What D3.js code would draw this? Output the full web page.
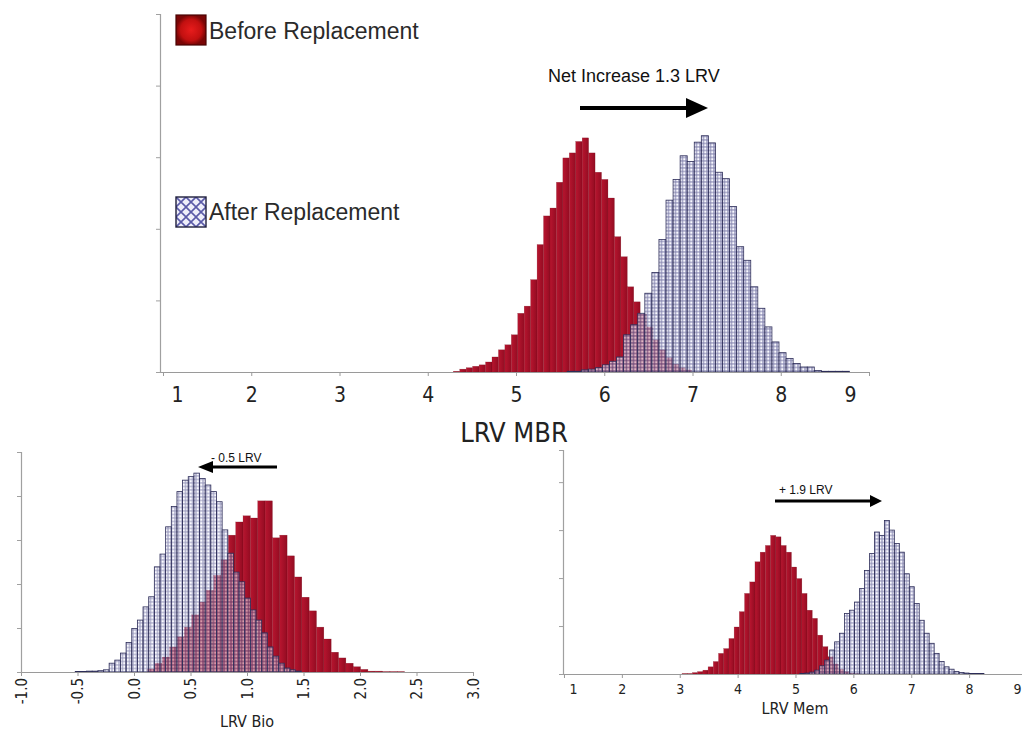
<!DOCTYPE html>
<html>
<head>
<meta charset="utf-8">
<script src="https://cdn.jsdelivr.net/npm/d3@7"></script>
<style>
  body { margin: 0; background: #fff; }
  svg { display: block; }
</style>
</head>
<body>
<svg id="chart" width="1022" height="731"></svg>
<script>
// ---------- data (LRV histograms, bin start / bin width / frequency) ----------
const mbrTicks = [1, 2, 3, 4, 5, 6, 7, 8, 9];
const mbrBeforeStart = 4.29, mbrBeforeBin = 0.073;
const mbrBeforeCounts = [1, 4, 6, 8, 10, 14, 21, 31, 38, 52, 82, 92, 129, 178, 218, 229, 265, 299, 306, 322,
  327, 306, 279, 269, 243, 189, 161, 119, 98, 81, 63, 45, 31, 20, 11, 6, 3];
const mbrAfterStart = 5.58, mbrAfterBin = 0.08;
const mbrAfterCounts = [1, 1, 3, 4, 6, 10, 15, 21, 52, 66, 82, 110, 139, 185, 240, 269, 302, 294, 321, 330,
  320, 279, 270, 231, 175, 156, 119, 89, 63, 42, 27, 19, 12, 7, 7, 2, 1, 1, 1, 1];

const bioTicks = [-1.0, -0.5, 0.0, 0.5, 1.0, 1.5, 2.0, 2.5, 3.0];
const bioBeforeStart = 0.12, bioBeforeBin = 0.065;
const bioBeforeCounts = [7, 20, 34, 57, 80, 102, 130, 159, 186, 220, 255, 311, 341, 355, 350, 389, 389, 305,
  311, 264, 216, 170, 139, 102, 75, 45, 32, 20, 12, 6, 2, 2, 1, 1, 1];
const bioAfterStart = -0.52, bioAfterBin = 0.05;
const bioAfterCounts = [1, 1, 2, 2, 3, 5, 20, 27, 43, 67, 99, 118, 148, 171, 239, 268, 330, 376, 410, 436,
  444, 452, 440, 425, 410, 387, 323, 270, 227, 205, 168, 141, 118, 89, 57, 36, 20, 9, 5, 2];

const memTicks = [1, 2, 3, 4, 5, 6, 7, 8, 9];
const memBeforeStart = 3.04, memBeforeBin = 0.09;
const memBeforeCounts = [1, 1, 3, 5, 8, 15, 26, 43, 53, 74, 98, 130, 168, 192, 234, 254, 268, 289, 286, 268,
  254, 223, 199, 168, 133, 116, 81, 57, 36, 21, 10, 5, 2, 1];
const memAfterStart = 5.074, memAfterBin = 0.086;
const memAfterCounts = [1, 2, 4, 8, 17, 29, 50, 67, 85, 126, 133, 150, 178, 216, 251, 296, 289, 320, 300, 272,
  254, 209, 182, 147, 112, 85, 64, 43, 26, 15, 10, 5, 3, 2, 1, 1, 1];

const legendLabels = ["Before Replacement", "After Replacement"];

// ---------- drawing ----------
const svg = d3.select("#chart");
const defs = svg.append("defs");

// crimson bar shading
const redBar = defs.append("linearGradient").attr("id", "redBar")
  .attr("x1", 0).attr("x2", 1).attr("y1", 0).attr("y2", 0);
redBar.append("stop").attr("offset", "0%").attr("stop-color", "#b8152f");
redBar.append("stop").attr("offset", "100%").attr("stop-color", "#930c22");

// dotted lattice fill of the "after" bars
const dots = defs.append("pattern").attr("id", "dotFill")
  .attr("patternUnits", "userSpaceOnUse").attr("width", 3.5).attr("height", 3.5);
dots.append("rect").attr("width", 3.5).attr("height", 3.5).attr("fill", "#6a6a9e");
dots.append("circle").attr("cx", 1.75).attr("cy", 1.75).attr("r", 1.25).attr("fill", "#f6f6ff");

// legend swatches
const redKey = defs.append("radialGradient").attr("id", "redKey");
redKey.append("stop").attr("offset", "0%").attr("stop-color", "#e81c1c");
redKey.append("stop").attr("offset", "70%").attr("stop-color", "#c21010");
redKey.append("stop").attr("offset", "100%").attr("stop-color", "#7a0606");

const diamond = defs.append("pattern").attr("id", "diamondKey")
  .attr("patternUnits", "userSpaceOnUse").attr("width", 10).attr("height", 10)
  .attr("x", 176).attr("y", 197);
diamond.append("rect").attr("width", 10).attr("height", 10).attr("fill", "#eeeefa");
diamond.append("path").attr("d", "M0,0L10,10M10,0L0,10")
  .attr("stroke", "#5a5aa8").attr("stroke-width", 1.6);

function bins(start, width, counts) {
  return counts.map((c, i) => ({ x0: start + i * width, x1: start + (i + 1) * width, v: c }));
}

function panel(o) {
  const x = d3.scaleLinear().domain(o.xDomain).range(o.xRange);
  const y = d3.scaleLinear().domain(o.yDomain).range(o.yRange);
  const g = svg.append("g");

  // red (before) bars
  g.append("g").selectAll("rect")
    .data(bins(o.before.start, o.before.bin, o.before.counts))
    .join("rect")
    .attr("x", d => x(d.x0))
    .attr("width", d => x(d.x1) - x(d.x0))
    .attr("y", d => y(d.v))
    .attr("height", d => y(0) - y(d.v))
    .attr("fill", "url(#redBar)")
    .attr("stroke", "#6e0816").attr("stroke-width", 0.4).attr("stroke-opacity", 0.5);

  // lattice (after) bars laid over them
  g.append("g").selectAll("rect")
    .data(bins(o.after.start, o.after.bin, o.after.counts))
    .join("rect")
    .attr("x", d => x(d.x0))
    .attr("width", d => x(d.x1) - x(d.x0))
    .attr("y", d => y(d.v))
    .attr("height", d => y(0) - y(d.v))
    .attr("fill", "url(#dotFill)").attr("fill-opacity", o.afterOpacity)
    .attr("stroke", "#2c2c58").attr("stroke-width", 0.8);

  // axes
  const xAxis = g.append("g").attr("transform", `translate(0,${o.yRange[0]})`)
    .call(d3.axisBottom(x).tickValues(o.ticks).tickFormat(o.fmt).tickSize(4).tickSizeOuter(0));
  xAxis.select(".domain").attr("stroke", "#9a9a9a").attr("stroke-width", 1.2);
  xAxis.selectAll(".tick line").attr("stroke", "#9a9a9a");
  const labels = xAxis.selectAll(".tick text")
    .attr("fill", "#222")
    .attr("font-family", "'DejaVu Sans Condensed', 'DejaVu Sans', sans-serif")
    .attr("font-size", o.tickFont);
  if (o.rotateLabels) {
    labels.attr("transform", "rotate(-90)").attr("text-anchor", "end")
      .attr("x", -6).attr("y", 0).attr("dy", "0.35em");
  } else {
    labels.attr("y", o.tickDy).attr("dy", 0)
      .attr("dx", (d, i, n) => i === 0 ? o.endNudge[0] : (i === n.length - 1 ? o.endNudge[1] : 0));
  }

  const yAxis = g.append("g").attr("transform", `translate(${o.xRange[0]},0)`)
    .call(d3.axisLeft(y).tickValues(o.yTicks).tickFormat("").tickSize(4).tickSizeOuter(4));
  yAxis.select(".domain").attr("stroke", "#a0a0a0").attr("stroke-width", 1.2);
  yAxis.selectAll(".tick line").attr("stroke", "#a0a0a0");

  // axis title
  g.append("text").attr("x", o.title.x).attr("y", o.title.y)
    .attr("text-anchor", "middle").attr("fill", "#222")
    .attr("font-family", "'DejaVu Sans Condensed', 'DejaVu Sans', sans-serif")
    .attr("font-size", o.title.size).text(o.title.text);

  return { x, y, g };
}

function arrow(x1, x2, yPos, width, head, headLen) {
  const dir = Math.sign(x2 - x1);
  const tip = x2, base = x2 - dir * headLen;
  svg.append("line").attr("x1", x1).attr("x2", base).attr("y1", yPos).attr("y2", yPos)
    .attr("stroke", "#000").attr("stroke-width", width);
  svg.append("path")
    .attr("d", `M${tip},${yPos}L${base},${yPos - head}L${base},${yPos + head}Z`)
    .attr("fill", "#000");
}

// one-decimal labels written with a plain hyphen for negatives
const fmtOneDecimal = d => d.toFixed(1);

// top panel: LRV MBR
panel({
  xDomain: [0.966, 9], xRange: [160, 869],
  yDomain: [0, 500], yRange: [372, 14], yTicks: [100, 200, 300, 400],
  ticks: mbrTicks, fmt: d3.format("d"), tickFont: 21, tickDy: 30, endNudge: [14, -19],
  before: { start: mbrBeforeStart, bin: mbrBeforeBin, counts: mbrBeforeCounts },
  after: { start: mbrAfterStart, bin: mbrAfterBin, counts: mbrAfterCounts },
  afterOpacity: 0.72,
  title: { text: "LRV MBR", x: 514, y: 442, size: 27 }
});

// bottom-left panel: LRV Bio
panel({
  xDomain: [-1, 3], xRange: [21, 473],
  yDomain: [0, 500], yRange: [672, 452], yTicks: [100, 200, 300, 400],
  ticks: bioTicks, fmt: fmtOneDecimal, tickFont: 15, rotateLabels: true,
  before: { start: bioBeforeStart, bin: bioBeforeBin, counts: bioBeforeCounts },
  after: { start: bioAfterStart, bin: bioAfterBin, counts: bioAfterCounts },
  afterOpacity: 0.58,
  title: { text: "LRV Bio", x: 247, y: 727, size: 16 }
});

// bottom-right panel: LRV Mem
panel({
  xDomain: [0.983, 9], xRange: [563, 1027],
  yDomain: [0, 467], yRange: [674, 450], yTicks: [100, 200, 300, 400],
  ticks: memTicks, fmt: d3.format("d"), tickFont: 14, tickDy: 20, endNudge: [9, -10],
  before: { start: memBeforeStart, bin: memBeforeBin, counts: memBeforeCounts },
  after: { start: memAfterStart, bin: memAfterBin, counts: memAfterCounts },
  afterOpacity: 0.66,
  title: { text: "LRV Mem", x: 795, y: 714, size: 16 }
});

// legend
svg.append("rect").attr("x", 176).attr("y", 15).attr("width", 30).attr("height", 30)
  .attr("fill", "url(#redKey)").attr("stroke", "#4a0404").attr("stroke-width", 1.2);
svg.append("rect").attr("x", 176).attr("y", 197).attr("width", 30).attr("height", 30)
  .attr("fill", "url(#diamondKey)").attr("stroke", "#1e1e3c").attr("stroke-width", 1.4);
svg.selectAll("text.legend").data(legendLabels).join("text").attr("class", "legend")
  .attr("x", 209).attr("y", (d, i) => i === 0 ? 39 : 220)
  .attr("font-family", "'Liberation Sans', Arial, sans-serif").attr("font-size", 23)
  .attr("fill", "#2a2a2a").text(d => d);

// shift annotations
svg.append("text").attr("x", 548).attr("y", 82)
  .attr("font-family", "'Liberation Sans', Arial, sans-serif").attr("font-size", 18)
  .attr("fill", "#111").text("Net Increase 1.3 LRV");
arrow(580, 708, 108, 4, 10, 22);

svg.append("text").attr("x", 211).attr("y", 462)
  .attr("font-family", "'Liberation Sans', Arial, sans-serif").attr("font-size", 12)
  .attr("fill", "#111").text("- 0.5 LRV");
arrow(277, 198, 467, 3, 6, 15);

svg.append("text").attr("x", 779).attr("y", 494)
  .attr("font-family", "'Liberation Sans', Arial, sans-serif").attr("font-size", 12)
  .attr("fill", "#111").text("+ 1.9 LRV");
arrow(775, 882, 501, 3, 6, 12);
</script>
</body>
</html>
